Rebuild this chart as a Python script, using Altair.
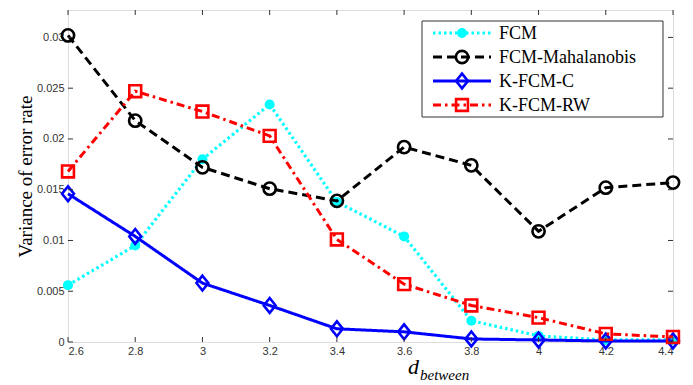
import altair as alt
import pandas as pd

x_vals = [2.6, 2.8, 3.0, 3.2, 3.4, 3.6, 3.8, 4.0, 4.2, 4.4]
fcm = [0.0056, 0.0095, 0.0180, 0.0234, 0.0138, 0.0104, 0.0021, 0.0006, 0.0002, 0.0002]
fcm_maha = [0.0302, 0.0218, 0.0172, 0.0151, 0.0139, 0.0192, 0.0174, 0.0109, 0.0152, 0.0157]
kfcm_c = [0.0146, 0.0104, 0.0058, 0.0036, 0.0013, 0.0010, 0.0003, 0.0002, 0.0001, 0.0001]
kfcm_rw = [0.0168, 0.0247, 0.0227, 0.0203, 0.0101, 0.0057, 0.0036, 0.0024, 0.0008, 0.0005]
series_names = ["FCM", "FCM-Mahalanobis", "K-FCM-C", "K-FCM-RW"]
series_values = [fcm, fcm_maha, kfcm_c, kfcm_rw]
x_ticks = [2.6, 2.8, 3.0, 3.2, 3.4, 3.6, 3.8, 4.0, 4.2, 4.4]
y_ticks = [0, 0.005, 0.01, 0.015, 0.02, 0.025, 0.03]

W, H = 605, 332
DIAMOND = "M0,-1L0.8,0L0,1L-0.8,0Z"
styles = {
    "FCM": dict(color="#00FFFF", dash=[2.5, 3], width=3.2, shape="circle", filled=True, size=100),
    "FCM-Mahalanobis": dict(color="#000000", dash=[9, 5], width=3, shape="circle", filled=False, size=150),
    "K-FCM-C": dict(color="#0000FF", dash=[1, 0], width=3, shape=DIAMOND, filled=False, size=220),
    "K-FCM-RW": dict(color="#FF0000", dash=[8, 4, 2.5, 4], width=3, shape="square", filled=False, size=140),
}

xs = alt.Scale(domain=[2.6, 4.4], nice=False, zero=False)
ys = alt.Scale(domain=[0, 0.0327], nice=False)

x_axis = alt.Axis(values=x_ticks, format="~g", ticks=False, domain=False, grid=False,
                  labelFont="Liberation Sans", labelFontSize=11, labelColor="#333",
                  labelPadding=3, title=None)
y_axis = alt.Axis(values=y_ticks, format="~g", ticks=False, domain=False, grid=False,
                  labelFont="Liberation Sans", labelFontSize=11, labelColor="#333",
                  labelPadding=4, title="Variance of error rate",
                  titleFont="Liberation Serif", titleFontSize=19, titleFontWeight="normal",
                  titleColor="#000", titleX=-43, titleY=166, titleAngle=-90,
                  titleAlign="center", titleBaseline="middle")

X = alt.X("x:Q", scale=xs, axis=x_axis)
Y = alt.Y("y:Q", scale=ys, axis=y_axis)

layers = []
for name, vals in zip(series_names, series_values):
    st = styles[name]
    df = pd.DataFrame({"x": x_vals, "y": vals})
    base = alt.Chart(df)
    layers.append(base.mark_line(color=st["color"], strokeWidth=st["width"],
                                 strokeDash=st["dash"]).encode(x=X, y=Y))
    layers.append(base.mark_point(color=st["color"], shape=st["shape"], filled=st["filled"],
                                  size=st["size"], strokeWidth=2.6, opacity=1).encode(x=X, y=Y))

# inward ticks (matlab style)
xt = alt.Chart(pd.DataFrame({"x": x_ticks}))
yt = alt.Chart(pd.DataFrame({"y": y_ticks}))
tick_col = "#333"
layers.append(xt.mark_rule(color=tick_col, strokeWidth=1).encode(x=X, y=alt.value(H), y2=alt.value(H - 5)))
layers.append(xt.mark_rule(color=tick_col, strokeWidth=1).encode(x=X, y=alt.value(0), y2=alt.value(5)))
layers.append(yt.mark_rule(color=tick_col, strokeWidth=1).encode(y=Y, x=alt.value(0), x2=alt.value(5)))
layers.append(yt.mark_rule(color=tick_col, strokeWidth=1).encode(y=Y, x=alt.value(W), x2=alt.value(W - 5)))

# legend box
one = pd.DataFrame({"a": [0]})
layers.append(alt.Chart(one).mark_rect(fill="white", stroke="#333", strokeWidth=1).encode(
    x=alt.value(354), x2=alt.value(595), y=alt.value(11), y2=alt.value(107)))
leg_y = [23, 47, 71, 95]
for name, ly in zip(series_names, leg_y):
    st = styles[name]
    d = pd.DataFrame({"name": [name]})
    c = alt.Chart(d)
    layers.append(c.mark_rule(color=st["color"], strokeWidth=st["width"], strokeDash=st["dash"]).encode(
        x=alt.value(365), x2=alt.value(423), y=alt.value(ly)))
    layers.append(c.mark_point(color=st["color"], shape=st["shape"], filled=st["filled"],
                               size=st["size"], strokeWidth=2.6, opacity=1).encode(
        x=alt.value(394), y=alt.value(ly)))
    layers.append(c.mark_text(align="left", baseline="middle", font="Liberation Serif",
                              fontSize=18, color="#000").encode(
        x=alt.value(431), y=alt.value(ly + 1), text="name:N"))

# x-axis title d_between
tdf = pd.DataFrame({"d": ["d"], "s": ["between"]})
layers.append(alt.Chart(tdf).mark_text(align="left", baseline="alphabetic", font="Liberation Serif",
                                       fontStyle="italic", fontSize=22, color="#000").encode(
    x=alt.value(340), y=alt.value(H + 32), text="d:N"))
layers.append(alt.Chart(tdf).mark_text(align="left", baseline="alphabetic", font="Liberation Serif",
                                       fontStyle="italic", fontSize=15, color="#000").encode(
    x=alt.value(352), y=alt.value(H + 38), text="s:N"))

chart = alt.layer(*layers).properties(
    width=W, height=H,
    autosize=alt.AutoSizeParams(type="none"),
    padding={"left": 68, "top": 10, "right": 20, "bottom": 43},
).configure_view(stroke="#333", strokeWidth=1).configure(background="white")

chart.save("out.html", embed_options={"renderer": "svg", "actions": False})
